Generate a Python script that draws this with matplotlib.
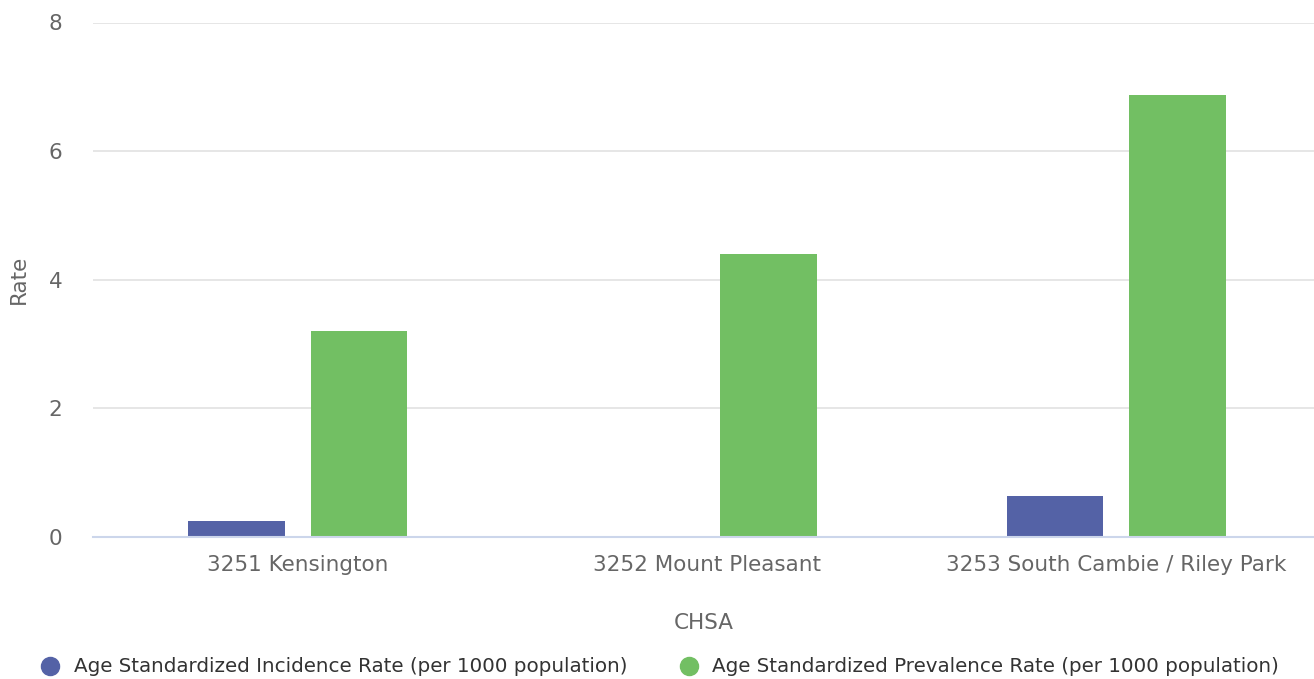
import matplotlib
matplotlib.use("Agg")
import matplotlib.pyplot as plt
import numpy as np
from matplotlib.lines import Line2D

# values
categories = ["3251 Kensington", "3252 Mount Pleasant", "3253 South Cambie / Riley Park"]
incidence = [0.25, 0.0, 0.63]
prevalence = [3.2, 4.4, 6.87]
series_names = [
    "Age Standardized Incidence Rate (per 1000 population)",
    "Age Standardized Prevalence Rate (per 1000 population)",
]
y_ticks = [0, 2, 4, 6, 8]

BLUE = "#5462a6"
GREEN = "#72bf63"
LABEL = "#666666"

W, H = 1314, 679
fig = plt.figure(figsize=(W / 100, H / 100), dpi=100)
ax = fig.add_axes([93 / W, 1 - 537 / H, 1 - 93 / W, (537 - 22.5) / H])

x = np.arange(len(categories))
width = 0.236
offset = 0.15
ax.bar(x - offset, incidence, width, color=BLUE, zorder=3)
ax.bar(x + offset, prevalence, width, color=GREEN, zorder=3)

ax.set_xlim(-0.5, 2.483)
ax.set_ylim(0, 8)
ax.set_yticks(y_ticks)
ax.set_xticks(x)
ax.set_xticklabels(categories)
ax.tick_params(axis="both", length=0, labelsize=15.5, labelcolor=LABEL)
ax.tick_params(axis="x", pad=13)
ax.tick_params(axis="y", pad=22)
ax.grid(axis="y", color="#e6e6e6", linewidth=1.4, zorder=0)
for side in ["top", "right", "left"]:
    ax.spines[side].set_visible(False)
ax.spines["bottom"].set_color("#ccd6eb")
ax.spines["bottom"].set_linewidth(1.5)
ax.spines["bottom"].set_zorder(4)

ax.set_ylabel("Rate", fontsize=15.5, color=LABEL, labelpad=14)
ax.set_xlabel("CHSA", fontsize=15.5, color=LABEL, labelpad=27)

# legend drawn by hand so both entries fit the width like the original
legend_y = 1 - 666 / H
for name, color, mx, tx in zip(series_names, (BLUE, GREEN), (50, 689), (74, 712)):
    fig.add_artist(Line2D([mx / W], [legend_y], marker="o", markersize=13,
                          color=color, linestyle="none"))
    fig.text(tx / W, legend_y, name, fontsize=14.3, color="#333333",
             va="center", ha="left")

fig.savefig("out.png", dpi=100)
